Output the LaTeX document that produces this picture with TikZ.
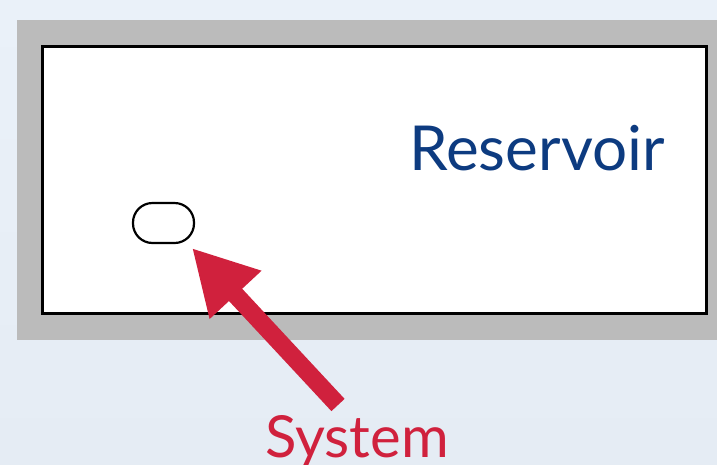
\documentclass[tikz,border=0pt]{standalone}
\usepackage{fontspec}
\setmainfont{Lato}
\usetikzlibrary{arrows.meta}
\definecolor{bgtop}{HTML}{EAF1F9}
\definecolor{bgbot}{HTML}{E5ECF4}
\definecolor{frame}{HTML}{BBBBBB}
\definecolor{resblue}{HTML}{0D3B80}
\definecolor{sysred}{HTML}{D0213D}
\begin{document}
\begin{tikzpicture}[x=1pt,y=-1pt,
  lbl/.style={inner sep=0pt, font=\fontsize{62}{70}\selectfont},
  pill/.style={draw=black, line width=2.2pt, fill=white, rounded corners=19.5pt, minimum width=61pt, minimum height=40pt, inner sep=0pt},
  pointer/.style={draw=sysred, line width=18pt, -{Triangle[length=64pt,width=66pt]}}]
\useasboundingbox (0,0) rectangle (717,464);
\shade[top color=bgtop, bottom color=bgbot] (0,0) rectangle (717,464);
\fill[frame] (17,20) rectangle (717,340);
\draw[fill=white, line width=3pt] (42,46) rectangle (706,313);
\node[lbl, text=resblue, anchor=base] (res) at (537,170) {Reservoir};
\node[pill] (sys) at (163.5,223) {};
\node[lbl, text=sysred, anchor=base, font=\fontsize{58}{66}\selectfont] (syslbl) at (357,457) {System};
\coordinate (tail) at (338,405);
\coordinate (tip) at (192,248);
\draw[pointer] (tail) -- (tip);
\end{tikzpicture}
\end{document}
